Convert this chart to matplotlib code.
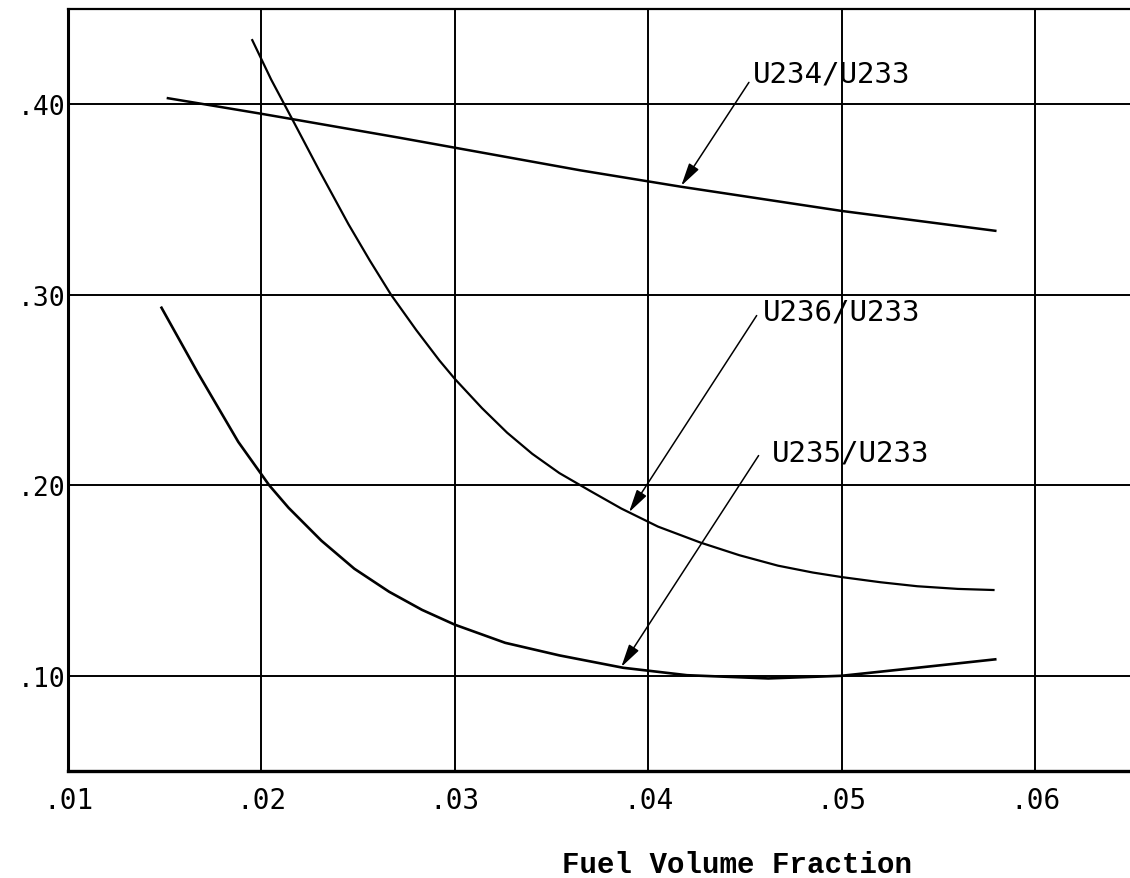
import matplotlib
matplotlib.use('Agg')
from matplotlib import pyplot as plt

# values
x_u234 = [0.0151, 0.0200, 0.0216, 0.0271, 0.0300, 0.0365, 0.0417, 0.0500, 0.0580]
y_u234 = [0.4033, 0.3950, 0.3922, 0.3825, 0.3772, 0.3653, 0.3567, 0.3440, 0.3335]

x_u236 = [0.0195, 0.0205, 0.0216, 0.0230, 0.0245, 0.0256, 0.0267, 0.0280, 0.0292,
          0.0300, 0.0314, 0.0327, 0.0340, 0.0354, 0.0370, 0.0386, 0.0405, 0.0427,
          0.0447, 0.0467, 0.0485, 0.0500, 0.0520, 0.0539, 0.0560, 0.0579]
y_u236 = [0.4342, 0.4130, 0.3920, 0.3650, 0.3370, 0.3180, 0.3000, 0.2815, 0.2655,
          0.2558, 0.2405, 0.2276, 0.2165, 0.2064, 0.1970, 0.1878, 0.1783, 0.1699,
          0.1633, 0.1578, 0.1542, 0.1518, 0.1491, 0.1470, 0.1456, 0.1450]

x_u235 = [0.0148, 0.0167, 0.0188, 0.0204, 0.0214, 0.0231, 0.0248, 0.0266, 0.0283,
          0.0300, 0.0326, 0.0354, 0.0387, 0.0420, 0.0462, 0.0500, 0.0539, 0.0580]
y_u235 = [0.2938, 0.2592, 0.2228, 0.2000, 0.1882, 0.1709, 0.1562, 0.1441, 0.1346,
          0.1268, 0.1173, 0.1107, 0.1042, 0.1003, 0.0986, 0.1000, 0.1042, 0.1087]

xticks = [0.01, 0.02, 0.03, 0.04, 0.05, 0.06]
xtick_labels = ['.01', '.02', '.03', '.04', '.05', '.06']
yticks = [0.10, 0.20, 0.30, 0.40]
ytick_labels = ['.10', '.20', '.30', '.40']

# label text, label position, arrow tail, arrow tip
labels = ['U234/U233', 'U236/U233', 'U235/U233']
label_xy = [(0.0454, 0.4162), (0.0459, 0.2911), (0.0464, 0.2172)]
arrow_tail = [(0.0452, 0.4115), (0.0456, 0.2891), (0.0457, 0.2156)]
arrow_tip = [(0.0417, 0.3572), (0.0390, 0.1858), (0.0386, 0.1046)]

lettering = 'DejaVu Sans Mono'

fig = plt.figure(figsize=(11.3, 8.79), dpi=100)
ax = fig.add_axes([0.0602, 0.1217, 0.9398, 0.8669])

ax.plot(x_u234, y_u234, color='black', lw=1.8, solid_capstyle='butt')
ax.plot(x_u236, y_u236, color='black', lw=1.6, solid_capstyle='butt')
ax.plot(x_u235, y_u235, color='black', lw=1.9, solid_capstyle='butt')

for txt, (tx, ty), tail, tip in zip(labels, label_xy, arrow_tail, arrow_tip):
    ax.text(tx, ty, txt, fontsize=21, family=lettering, ha='left', va='center')
    ax.annotate('', xy=tip, xytext=tail,
                arrowprops=dict(arrowstyle='-|>,head_length=1.4,head_width=0.35',
                                color='black', lw=1.1, shrinkA=0, shrinkB=0))

ax.set_xlim(0.01, 0.0649)
ax.set_ylim(0.05, 0.45)
ax.set_xticks(xticks)
ax.set_xticklabels(xtick_labels, family=lettering, fontsize=20)
ax.set_yticks(yticks)
ax.set_yticklabels(ytick_labels, family=lettering, fontsize=19)
ax.tick_params(axis='x', length=0, pad=11)
ax.tick_params(axis='y', length=0, pad=2)

ax.grid(True, color='black', lw=1.4)
ax.set_axisbelow(True)

ax.spines['right'].set_visible(False)
ax.spines['left'].set_linewidth(2.2)
ax.spines['bottom'].set_linewidth(2.4)
ax.spines['top'].set_linewidth(1.6)

fig.text(0.652, 0.016, 'Fuel Volume Fraction', family='Liberation Mono',
         fontweight='bold', fontsize=21, ha='center', va='center')

plt.savefig('out.png', dpi=100)
